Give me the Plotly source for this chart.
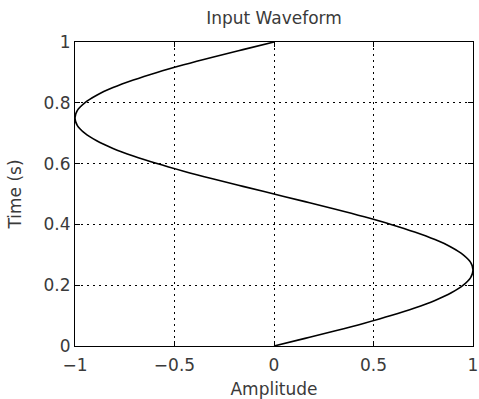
import plotly.graph_objects as go

time_s = [0.0, 0.025, 0.05, 0.075, 0.1, 0.125, 0.15, 0.175, 0.2, 0.225, 0.25,
          0.275, 0.3, 0.325, 0.35, 0.375, 0.4, 0.425, 0.45, 0.475, 0.5,
          0.525, 0.55, 0.575, 0.6, 0.625, 0.65, 0.675, 0.7, 0.725, 0.75,
          0.775, 0.8, 0.825, 0.85, 0.875, 0.9, 0.925, 0.95, 0.975, 1.0]
amplitude = [0.0, 0.156, 0.309, 0.454, 0.588, 0.707, 0.809, 0.891, 0.951, 0.988, 1.0,
             0.988, 0.951, 0.891, 0.809, 0.707, 0.588, 0.454, 0.309, 0.156, 0.0,
             -0.156, -0.309, -0.454, -0.588, -0.707, -0.809, -0.891, -0.951, -0.988, -1.0,
             -0.988, -0.951, -0.891, -0.809, -0.707, -0.588, -0.454, -0.309, -0.156, 0.0]

x_ticks = [-1, -0.5, 0, 0.5, 1]
x_tick_labels = ["\u22121", "\u22120.5", "0", "0.5", "1"]
y_ticks = [0, 0.2, 0.4, 0.6, 0.8, 1]
y_tick_labels = ["0", "0.2", "0.4", "0.6", "0.8", "1"]

FONT = "DejaVu Sans"
TXT = "#3a3a3a"

fig = go.Figure()
fig.add_trace(go.Scatter(x=amplitude, y=time_s, mode="lines", line_shape="spline",
                         line=dict(color="black", width=1.6), showlegend=False))

axis_common = dict(showline=True, linecolor="black", linewidth=1.2, mirror="ticks",
                   ticks="inside", ticklen=5, tickcolor="black", tickwidth=1,
                   showgrid=True, gridcolor="black", gridwidth=1, griddash="2px,4px",
                   zeroline=False, automargin=False, ticklabeloverflow="allow",
                   tickfont=dict(family=FONT, size=17, color=TXT))

fig.update_xaxes(range=[-1, 1], tickvals=x_ticks, ticktext=x_tick_labels,
                 ticklabelstandoff=3,
                 title=dict(text="Amplitude", font=dict(family=FONT, size=17, color=TXT), standoff=11),
                 **axis_common)
fig.update_yaxes(range=[0, 1], tickvals=y_ticks, ticktext=y_tick_labels,
                 title=dict(text="Time (s)", font=dict(family=FONT, size=17, color=TXT), standoff=17),
                 **axis_common)

fig.update_layout(
    width=479, height=399,
    margin=dict(l=75, r=6, t=42, b=53),
    paper_bgcolor="white", plot_bgcolor="white",
    title=dict(text="Input Waveform", x=0.572, xanchor="center", y=0.955, yanchor="middle",
               font=dict(family=FONT, size=17, color=TXT)),
)

# remove the default 8px page margin and scrollbars so the figure fills the window
fig.write_html("out.html", config={"displayModeBar": False},
               post_script="document.body.style.margin='0';document.body.style.overflow='hidden';"
                           "document.documentElement.style.overflow='hidden';")
